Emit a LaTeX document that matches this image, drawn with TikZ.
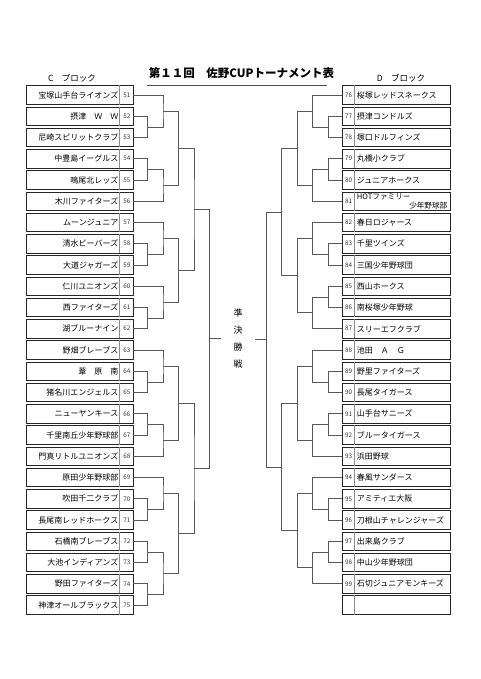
\documentclass[tikz,border=0pt]{standalone}
\usepackage{fontspec}
\setmainfont{Noto Sans CJK JP}
\usetikzlibrary{calc}
\tikzset{
 lbox/.style={draw=black!85, line width=0.9pt, minimum width=106.3pt, minimum height=18.5pt, inner sep=0pt},
 rbox/.style={lbox, minimum width=107.3pt},
 sepl/.style={draw=black!45, line width=0.5pt},
 numtxt/.style={font=\fontsize{6.3}{7}\selectfont, inner sep=0pt, text=black!80},
 nametxt/.style={font=\fontsize{8}{9}\selectfont, inner sep=0pt},
 br/.style={draw=black!65, line width=0.65pt},
 blocktxt/.style={font=\fontsize{8.5}{10}\selectfont, inner sep=0pt},
 titletxt/.style={font=\fontsize{11.5}{13}\selectfont\bfseries, inner sep=0pt},
}
\newcommand\lteam[3]{%
 \node[lbox] (L#1) at (79.85,{95+21.25*#2}) {};
 \draw[sepl] ([xshift=93.3pt]L#1.north west) -- ([xshift=93.3pt]L#1.south west);
 \node[numtxt] (LN#1) at ([xshift=-6.5pt]L#1.east) {#1};
 \node[nametxt, anchor=east] (LT#1) at ([xshift=-15pt]L#1.east) {#3};
 \coordinate (a#1) at (L#1.east);
}
\newcommand\rteam[3]{%
 \node[rbox] (R#1) at (396.35,{95+21.25*#2}) {};
 \draw[sepl] ([xshift=12.3pt]R#1.north west) -- ([xshift=12.3pt]R#1.south west);
 \node[numtxt] (RN#1) at ([xshift=6.3pt]R#1.west) {#1};
 \node[nametxt, anchor=west] (RT#1) at ([xshift=14.5pt]R#1.west) {#3};
 \coordinate (b#1) at (R#1.west);
}
\newcommand\mtch[4]{%
 \coordinate (#4tmp) at ($(#1)!0.5!(#2)$);
 \coordinate (#4) at (#3 |- #4tmp);
 \draw[br] (#1) -| (#4) |- (#2);
}
\begin{document}
\begin{tikzpicture}[x=1pt,y=-1pt]
\useasboundingbox (0,0) rectangle (480,679);
\fill[white] (0,0) rectangle (480,679);

% title
\node[titletxt] (ttl) at (241.5,73) {第１１回　佐野CUPトーナメント表};
\coordinate (ul1) at (147,85.7);
\coordinate (ul2) at (327,85.7);
\draw[draw=black!70, line width=0.8pt] (ul1) -- (ul2);

\node[blocktxt] (cblk) at (72,78) {C　ブロック};
\node[blocktxt] (dblk) at (401,78) {D　ブロック};

\node[font=\fontsize{9}{17}\selectfont, align=center, inner sep=0pt] (semi) at (238,339) {準\\決\\勝\\戦};

% left teams
\lteam{51}{0}{宝塚山手台ライオンズ}
\lteam{52}{1}{摂津　Ｗ　Ｗ}
\lteam{53}{2}{尼崎スピリットクラブ}
\lteam{54}{3}{中豊島イーグルス}
\lteam{55}{4}{鳴尾北レッズ}
\lteam{56}{5}{木川ファイターズ}
\lteam{57}{6}{ムーンジュニア}
\lteam{58}{7}{清水ビーバーズ}
\lteam{59}{8}{大道ジャガーズ}
\lteam{60}{9}{仁川ユニオンズ}
\lteam{61}{10}{西ファイターズ}
\lteam{62}{11}{湖ブルーナイン}
\lteam{63}{12}{野畑ブレーブス}
\lteam{64}{13}{葦　原　南}
\lteam{65}{14}{猪名川エンジェルス}
\lteam{66}{15}{ニューヤンキース}
\lteam{67}{16}{千里南丘少年野球部}
\lteam{68}{17}{門真リトルユニオンズ}
\lteam{69}{18}{原田少年野球部}
\lteam{70}{19}{吹田千二クラブ}
\lteam{71}{20}{長尾南レッドホークス}
\lteam{72}{21}{石橋南ブレーブス}
\lteam{73}{22}{大池インディアンズ}
\lteam{74}{23}{野田ファイターズ}
\lteam{75}{24}{神津オールブラックス}

% right teams
\rteam{76}{0}{桜塚レッドスネークス}
\rteam{77}{1}{摂津コンドルズ}
\rteam{78}{2}{塚口ドルフィンズ}
\rteam{79}{3}{丸橋小クラブ}
\rteam{80}{4}{ジュニアホークス}
\rteam{81}{5}{}
\node[nametxt, anchor=west, font=\fontsize{7.6}{9}\selectfont] (RT81a) at ([xshift=14.5pt,yshift=4.5pt]R81.west) {HOTファミリー};
\node[nametxt, anchor=east, font=\fontsize{7.6}{9}\selectfont] (RT81b) at ([xshift=-3pt,yshift=-4.5pt]R81.east) {少年野球部};
\rteam{82}{6}{春日ロジャース}
\rteam{83}{7}{千里ツインズ}
\rteam{84}{8}{三国少年野球団}
\rteam{85}{9}{西山ホークス}
\rteam{86}{10}{南桜塚少年野球}
\rteam{87}{11}{スリーエフクラブ}
\rteam{88}{12}{池田　Ａ　Ｇ}
\rteam{89}{13}{野里ファイターズ}
\rteam{90}{14}{長尾タイガース}
\rteam{91}{15}{山手台サニーズ}
\rteam{92}{16}{ブルータイガース}
\rteam{93}{17}{浜田野球}
\rteam{94}{18}{春風サンダース}
\rteam{95}{19}{アミティエ大阪}
\rteam{96}{20}{刀根山チャレンジャーズ}
\rteam{97}{21}{出来島クラブ}
\rteam{98}{22}{中山少年野球団}
\rteam{99}{23}{石切ジュニアモンキーズ}
\node[rbox] (R100) at (396.35,{95+21.25*24}) {};
\draw[sepl] ([xshift=12.3pt]R100.north west) -- ([xshift=12.3pt]R100.south west);

% bracket x levels
\coordinate (lA1) at (147.5,0);
\coordinate (lA2) at (163,0);
\coordinate (lA3) at (178.5,0);
\coordinate (lA4) at (194,0);
\coordinate (lA5) at (209.5,0);
\coordinate (rA1) at (328.3,0);
\coordinate (rA2) at (312.8,0);
\coordinate (rA3) at (297.3,0);
\coordinate (rA4) at (281.8,0);
\coordinate (rA5) at (266.3,0);

% left bracket
\mtch{a52}{a53}{lA1}{m1}
\mtch{a51}{m1}{lA2}{m2}
\mtch{a54}{a55}{lA1}{m3}
\mtch{m3}{a56}{lA2}{m4}
\mtch{m2}{m4}{lA3}{m5}
\mtch{a58}{a59}{lA1}{m6}
\mtch{a57}{m6}{lA2}{m7}
\mtch{a61}{a62}{lA1}{m8}
\mtch{a60}{m8}{lA2}{m9}
\mtch{m7}{m9}{lA3}{m10}
\mtch{m5}{m10}{lA4}{m11}
\mtch{a64}{a65}{lA1}{m12}
\mtch{a63}{m12}{lA2}{m13}
\mtch{a66}{a67}{lA1}{m14}
\mtch{m14}{a68}{lA2}{m15}
\mtch{m13}{m15}{lA3}{m16}
\mtch{a70}{a71}{lA1}{m17}
\mtch{a69}{m17}{lA2}{m18}
\mtch{a72}{a73}{lA1}{m19}
\mtch{a74}{a75}{lA1}{m20}
\mtch{m19}{m20}{lA2}{m21}
\mtch{m18}{m21}{lA3}{m22}
\mtch{m16}{m22}{lA4}{m23}
\mtch{m11}{m23}{lA5}{m24}
\coordinate (sL) at ($(m24)+(11,0)$);
\draw[br] (m24) -- (sL);

% right bracket
\mtch{b77}{b78}{rA1}{n1}
\mtch{b76}{n1}{rA2}{n2}
\mtch{b79}{b80}{rA1}{n3}
\mtch{n3}{b81}{rA2}{n4}
\mtch{n2}{n4}{rA3}{n5}
\mtch{b83}{b84}{rA1}{n6}
\mtch{b82}{n6}{rA2}{n7}
\mtch{b85}{b86}{rA1}{n8}
\mtch{n8}{b87}{rA2}{n9}
\mtch{n7}{n9}{rA3}{n10}
\mtch{n5}{n10}{rA4}{n11}
\mtch{b89}{b90}{rA1}{n12}
\mtch{b88}{n12}{rA2}{n13}
\mtch{b91}{b92}{rA1}{n14}
\mtch{n14}{b93}{rA2}{n15}
\mtch{n13}{n15}{rA3}{n16}
\mtch{b95}{b96}{rA1}{n17}
\mtch{b94}{n17}{rA2}{n18}
\mtch{b97}{b98}{rA1}{n19}
\mtch{n19}{b99}{rA2}{n20}
\mtch{n18}{n20}{rA3}{n21}
\mtch{n16}{n21}{rA4}{n22}
\mtch{n11}{n22}{rA5}{n23}
\coordinate (sR) at ($(n23)+(-11,0)$);
\draw[br] (n23) -- (sR);
\end{tikzpicture}
\end{document}
